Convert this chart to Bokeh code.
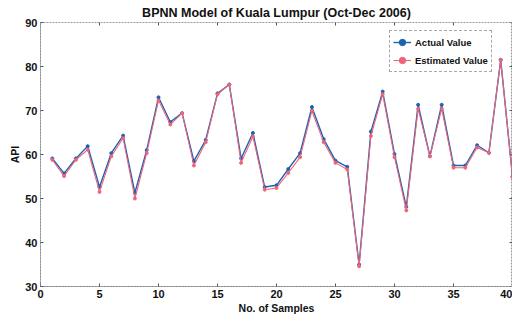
import math
from bokeh.plotting import figure
from bokeh.models import Range1d, FixedTicker, Legend, LegendItem
from bokeh.embed import file_html
from bokeh.resources import INLINE

samples = list(range(1, 41))
actual = [59.1, 55.7, 59.1, 61.9, 52.6, 60.3, 64.3, 51.3, 61.0, 73.0,
          67.4, 69.4, 58.5, 63.3, 73.9, 75.9, 59.1, 64.9, 52.6, 53.0,
          56.7, 60.3, 70.8, 63.5, 58.6, 57.2, 35.0, 65.2, 74.3, 60.1,
          48.1, 71.3, 59.6, 71.3, 57.5, 57.5, 62.1, 60.4, 81.5, 55.0]
estimated = [58.8, 55.1, 58.8, 61.1, 51.5, 59.6, 63.7, 50.0, 60.3, 72.3,
             66.8, 69.4, 57.5, 62.8, 73.7, 75.9, 58.1, 64.1, 52.0, 52.4,
             55.8, 59.4, 69.9, 62.8, 58.1, 56.6, 34.6, 64.2, 73.7, 59.4,
             47.3, 70.4, 59.6, 70.4, 57.0, 57.0, 61.6, 60.4, 81.5, 54.9]
x_ticks = [0, 5, 10, 15, 20, 25, 30, 35, 40]
y_ticks = [30, 40, 50, 60, 70, 80, 90]

FONT = "Liberation Sans"
BLUE = "#1f62b2"
RED = "#f06478"

p = figure(width=512, height=320, output_backend="svg", toolbar_location=None,
           x_range=Range1d(x_ticks[0], x_ticks[-1]), y_range=Range1d(y_ticks[0], y_ticks[-1]),
           min_border_left=40, min_border_right=0, min_border_top=21, min_border_bottom=34,
           title="BPNN Model of Kuala Lumpur (Oct-Dec 2006)")
p.title.align = "center"
p.title.text_font = FONT
p.title.text_font_size = "12.5px"
p.title.text_font_style = "bold"
p.title.text_color = "#111111"
p.title.standoff = 6

p.xgrid.visible = False
p.ygrid.visible = False
p.outline_line_color = "#9a9a9a"
p.outline_line_dash = "2 1"
p.outline_line_width = 1

for ax, ticks in ((p.xaxis[0], x_ticks), (p.yaxis[0], y_ticks)):
    ax.ticker = FixedTicker(ticks=ticks)
    ax.axis_line_color = "#8a8a8a"
    ax.axis_line_dash = "2 1"
    ax.major_tick_in = 3
    ax.major_tick_out = 0
    ax.major_tick_line_color = "#555555"
    ax.minor_tick_line_color = None
    ax.major_label_text_font = FONT
    ax.major_label_text_font_style = "bold"
    ax.major_label_text_font_size = "11px"
    ax.major_label_text_color = "#111111"
    ax.axis_label_text_font = FONT
    ax.axis_label_text_font_style = "bold"
    ax.axis_label_text_font_size = "10.5px"
    ax.axis_label_text_color = "#111111"
p.xaxis[0].axis_label = "No. of Samples"
p.yaxis[0].axis_label = "API"
p.xaxis[0].major_label_standoff = 3
p.yaxis[0].major_label_standoff = 3
p.xaxis[0].axis_label_standoff = 1
p.yaxis[0].axis_label_standoff = 1

# tick marks along the top and right edges of the box (MATLAB style)
p.scatter(x=x_ticks, y=[y_ticks[-1]] * len(x_ticks), marker="dash", angle=math.pi / 2,
          size=6, line_color="#555555", line_width=1)
p.scatter(x=[x_ticks[-1]] * len(y_ticks), y=y_ticks, marker="dash",
          size=6, line_color="#555555", line_width=1)

l1 = p.line(samples, actual, line_color=BLUE, line_width=1.4)
c1 = p.scatter(samples, actual, size=3, fill_color=BLUE, line_color=BLUE)
l2 = p.line(samples, estimated, line_color=RED, line_width=1.1)
c2 = p.scatter(samples, estimated, size=3, fill_color=RED, line_color=RED)

legend = Legend(items=[LegendItem(label="Actual Value", renderers=[l1, c1]),
                       LegendItem(label="Estimated Value", renderers=[l2, c2])],
                location=(349, 214))
legend.label_text_font = FONT
legend.label_text_font_style = "bold"
legend.label_text_font_size = "9.5px"
legend.label_text_color = "#111111"
legend.padding = 3
legend.spacing = 2
legend.margin = 0
legend.label_height = 16
legend.glyph_height = 16
legend.glyph_width = 18
legend.label_standoff = 4
legend.border_line_color = "#555555"
legend.border_line_dash = "2 1"
legend.background_fill_alpha = 1
p.add_layout(legend)

open("out.html", "w").write(file_html(p, INLINE))
